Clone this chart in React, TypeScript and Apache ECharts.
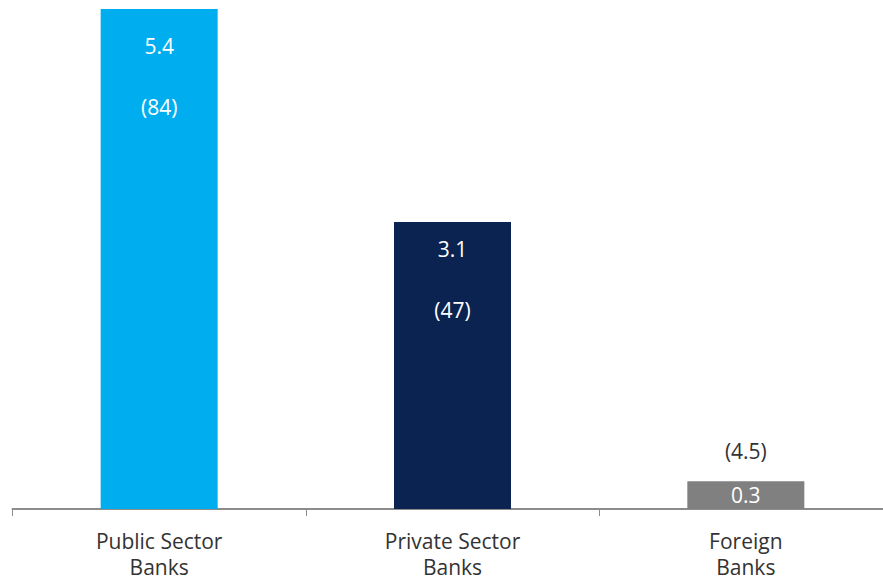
import React, { useEffect, useRef } from "react";
import * as echarts from "echarts";

const categories = ["Public Sector\nBanks", "Private Sector\nBanks", "Foreign\nBanks"];
const values = [5.4, 3.1, 0.3];
const valueLabels = ["5.4", "3.1", "0.3"];
const countLabels = ["(84)", "(47)", "(4.5)"];
const barColors = ["#00AEEF", "#0A2350", "#808080"];

const FONT = "'Open Sans', Lato, sans-serif";

export default function App() {
  const ref = useRef<HTMLDivElement>(null);
  useEffect(() => {
    document.body.style.margin = "0";
    const chart = echarts.init(ref.current!, null, { renderer: "svg" });
    const data = values.map((v, i) => {
      const small = i === 2;
      return {
        value: v,
        itemStyle: { color: barColors[i] },
        label: small
          ? {
              show: true,
              position: "inside",
              formatter: valueLabels[i],
              color: "#fff",
              fontSize: 21,
              fontFamily: FONT,
            }
          : {
              show: true,
              position: "insideTop",
              distance: i === 0 ? 6 : -3,
              formatter: `${valueLabels[i]}\n${countLabels[i]}`,
              color: "#fff",
              fontSize: 21,
              lineHeight: 61,
              fontFamily: FONT,
            },
      };
    });
    const topData = values.map((v, i) => ({
      value: v,
      itemStyle: { color: "transparent" },
      label:
        i === 2
          ? {
              show: true,
              position: "top",
              distance: 20,
              formatter: countLabels[i],
              color: "#333",
              fontSize: 21,
              fontFamily: FONT,
            }
          : { show: false },
    }));
    chart.setOption({
      animation: false,
      grid: { left: 12.5, top: 9, height: 504, width: 880, containLabel: false },
      xAxis: {
        type: "category",
        data: categories,
        axisLine: { show: true, lineStyle: { color: "#8c8c8c", width: 2 } },
        axisTick: { show: true, length: 7, lineStyle: { color: "#8c8c8c", width: 1 } },
        axisLabel: {
          color: "#333",
          fontSize: 21,
          lineHeight: 26,
          margin: 19,
          fontFamily: FONT,
          interval: 0,
        },
      },
      yAxis: {
        type: "value",
        min: 0,
        max: 5.4,
        show: false,
        splitLine: { show: false },
      },
      series: [
        {
          type: "bar",
          data,
          barWidth: 117,
          z: 2,
        },
        {
          type: "bar",
          data: topData,
          barWidth: 117,
          barGap: "-100%",
          z: 1,
          silent: true,
        },
      ],
    });
    return () => chart.dispose();
  }, []);
  return (
    <div style={{ width: 883, height: 580, overflow: "hidden" }}>
      <div ref={ref} style={{ width: 900, height: 580 }} />
    </div>
  );
}
